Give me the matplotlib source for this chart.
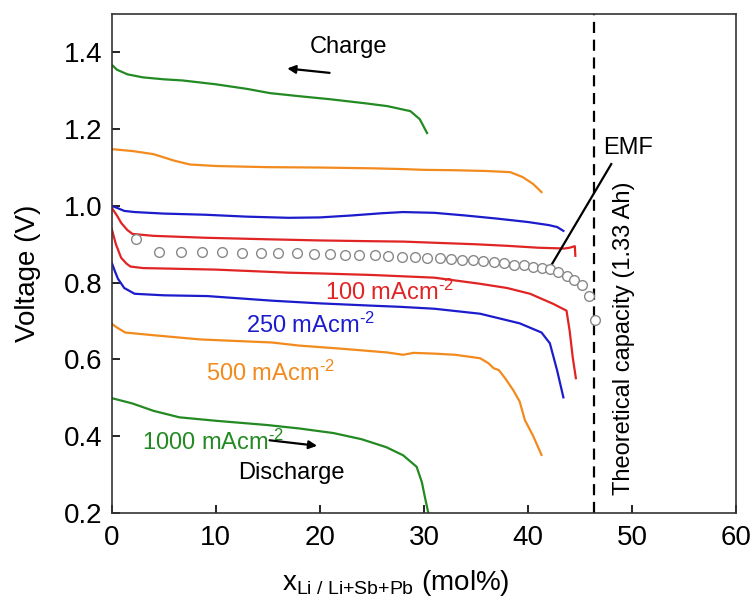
import matplotlib
matplotlib.use("Agg")
import matplotlib.pyplot as plt

plt.rcParams['font.family'] = ['Liberation Sans', 'DejaVu Sans']
plt.rcParams['mathtext.fontset'] = 'custom'
plt.rcParams['mathtext.rm'] = 'Liberation Sans'
plt.rcParams['mathtext.it'] = 'Liberation Sans:italic'

# charge curves (upper branches)
green_chg_x = [0, 0.5, 1.5, 3, 5, 6.8, 10, 13, 15.2, 18, 21, 24.5, 26.5, 28.7, 29.6, 30.3]
green_chg_y = [1.368, 1.355, 1.343, 1.335, 1.330, 1.327, 1.317, 1.305, 1.294, 1.286, 1.278, 1.267, 1.260, 1.247, 1.226, 1.19]

orange_chg_x = [0, 2, 4, 6, 7.5, 10, 15, 20, 25, 28, 30, 33, 36, 38.3, 39.5, 40.5, 41.3]
orange_chg_y = [1.148, 1.143, 1.135, 1.118, 1.108, 1.104, 1.101, 1.100, 1.098, 1.096, 1.094, 1.093, 1.091, 1.088, 1.075, 1.057, 1.036]

blue_chg_x = [0, 0.5, 1.2, 2.2, 5, 9, 13, 17, 20, 23, 26, 28, 31, 34, 37, 40, 42, 42.8, 43.4]
blue_chg_y = [1.0, 0.995, 0.987, 0.984, 0.980, 0.977, 0.972, 0.969, 0.970, 0.975, 0.981, 0.984, 0.982, 0.975, 0.967, 0.958, 0.950, 0.945, 0.935]

red_chg_x = [0, 0.5, 0.9, 1.5, 2.0, 4, 9, 15, 20, 25, 28, 31, 35, 38, 41, 43.5, 44.0, 44.5, 44.55]
red_chg_y = [0.995, 0.975, 0.956, 0.937, 0.927, 0.922, 0.917, 0.913, 0.910, 0.908, 0.907, 0.904, 0.900, 0.896, 0.891, 0.889, 0.891, 0.895, 0.870]

# discharge curves (lower branches)
red_dis_x = [0, 0.4, 0.9, 1.4, 1.8, 3, 10, 17, 20, 25, 31, 35.4, 38, 40.2, 42.4, 43.7, 44.0, 44.3, 44.6]
red_dis_y = [0.940, 0.900, 0.865, 0.850, 0.842, 0.838, 0.834, 0.826, 0.824, 0.820, 0.813, 0.797, 0.786, 0.771, 0.745, 0.727, 0.675, 0.605, 0.551]

blue_dis_x = [0, 0.3, 0.6, 1.2, 2.2, 5, 9.2, 15.4, 20, 25, 27.7, 31, 35.4, 39.2, 41.3, 42.1, 42.8, 43.4]
blue_dis_y = [0.852, 0.830, 0.810, 0.786, 0.771, 0.767, 0.765, 0.753, 0.746, 0.740, 0.737, 0.732, 0.719, 0.694, 0.670, 0.642, 0.571, 0.501]

orange_dis_x = [0, 0.5, 1.3, 4, 8.5, 15.4, 18, 22, 26.5, 28, 29, 31, 33, 35.4, 36.2, 36.7, 37.2, 37.8, 38.6, 39.2, 39.7, 40.5, 41.3]
orange_dis_y = [0.693, 0.683, 0.670, 0.663, 0.652, 0.644, 0.636, 0.628, 0.618, 0.612, 0.617, 0.615, 0.612, 0.603, 0.590, 0.577, 0.572, 0.551, 0.519, 0.490, 0.442, 0.400, 0.351]

green_dis_x = [0, 2, 4, 6.5, 10, 14.9, 18, 21.3, 24, 26.4, 28, 29.3, 29.8, 30.1, 30.5]
green_dis_y = [0.499, 0.485, 0.466, 0.449, 0.440, 0.429, 0.420, 0.408, 0.392, 0.371, 0.350, 0.320, 0.280, 0.240, 0.190]

# EMF points
emf_x = [2.3, 4.5, 6.7, 8.7, 10.6, 12.5, 14.3, 16.0, 17.8, 19.4, 21.0, 22.4, 23.8, 25.3, 26.5, 27.9,
         29.1, 30.3, 31.5, 32.6, 33.7, 34.7, 35.7, 36.7, 37.7, 38.7, 39.6, 40.5, 41.3, 42.1, 42.9,
         43.7, 44.4, 45.2, 45.9, 46.4]
emf_y = [0.915, 0.880, 0.880, 0.879, 0.879, 0.878, 0.878, 0.877, 0.876, 0.875, 0.874, 0.873, 0.872, 0.871, 0.870, 0.868,
         0.866, 0.865, 0.864, 0.862, 0.860, 0.858, 0.856, 0.853, 0.850, 0.847, 0.845, 0.842, 0.839, 0.835, 0.829,
         0.818, 0.806, 0.794, 0.766, 0.703]

theo_capacity = 46.3

GREEN = '#238a23'
ORANGE = '#f28a1e'
BLUE = '#1c1ccc'
RED = '#e02424'

fig = plt.figure(figsize=(7.55, 6.12), dpi=100)
ax = fig.add_axes([0.148, 0.162, 0.827, 0.815])

lw = 1.6
ax.plot(green_chg_x, green_chg_y, color=GREEN, lw=lw)
ax.plot(orange_chg_x, orange_chg_y, color=ORANGE, lw=lw)
ax.plot(blue_chg_x, blue_chg_y, color=BLUE, lw=lw)
ax.plot(red_chg_x, red_chg_y, color=RED, lw=lw)
ax.plot(red_dis_x, red_dis_y, color=RED, lw=lw)
ax.plot(blue_dis_x, blue_dis_y, color=BLUE, lw=lw)
ax.plot(orange_dis_x, orange_dis_y, color=ORANGE, lw=lw)
ax.plot(green_dis_x, green_dis_y, color=GREEN, lw=lw)

ax.plot(emf_x, emf_y, 'o', ms=7, mfc='white', mec='#888888', mew=1.0, zorder=3)

ax.axvline(theo_capacity, color='black', lw=1.6, ls=(0, (5, 3)))

ax.set_xlim(0, 60)
ax.set_ylim(0.2, 1.5)
ax.set_xticks([0, 10, 20, 30, 40, 50, 60])
ax.set_yticks([0.2, 0.4, 0.6, 0.8, 1.0, 1.2, 1.4])
ax.set_yticklabels(['0.2', '0.4', '0.6', '0.8', '1.0', '1.2', '1.4'])
ax.tick_params(direction='in', length=6, width=1.2, labelsize=20)
ax.tick_params(axis='x', pad=9)
ax.tick_params(axis='y', pad=7)
for s in ax.spines.values():
    s.set_linewidth(1.2)
    s.set_color('#333333')

ax.set_ylabel('Voltage (V)', fontsize=20, labelpad=16, y=0.48)
ax.set_xlabel(r'x$_{\mathrm{Li\ /\ Li{+}Sb{+}Pb}}$ (mol%)', fontsize=20, labelpad=12, x=0.455)

sup = r'$^{\text{-}2}$'
fs = 17
ax.text(19.0, 1.415, 'Charge', fontsize=fs, va='center', ha='left')
ax.annotate('', xy=(16.6, 1.359), xytext=(21.2, 1.346),
            arrowprops=dict(arrowstyle='-|>', color='black', lw=1.6, mutation_scale=12))
ax.text(12.1, 0.304, 'Discharge', fontsize=fs, va='center', ha='left')
ax.annotate('', xy=(20.0, 0.374), xytext=(14.9, 0.39),
            arrowprops=dict(arrowstyle='-|>', color='black', lw=1.6, mutation_scale=12))

ax.text(2.9, 0.384, '1000 mAcm' + sup, color=GREEN, fontsize=fs, va='center', ha='left')
ax.text(9.1, 0.564, '500 mAcm' + sup, color=ORANGE, fontsize=fs, va='center', ha='left')
ax.text(12.9, 0.69, '250 mAcm' + sup, color=BLUE, fontsize=fs, va='center', ha='left')
ax.text(20.5, 0.774, '100 mAcm' + sup, color=RED, fontsize=fs, va='center', ha='left')

ax.text(47.2, 1.151, 'EMF', fontsize=fs, va='center', ha='left')
ax.plot([48.0, 42.1], [1.109, 0.839], color='black', lw=1.6)

ax.text(49.2, 0.655, 'Theoretical capacity (1.33 Ah)', fontsize=fs, rotation=90,
        va='center', ha='center')

fig.savefig('out.png', dpi=100)
